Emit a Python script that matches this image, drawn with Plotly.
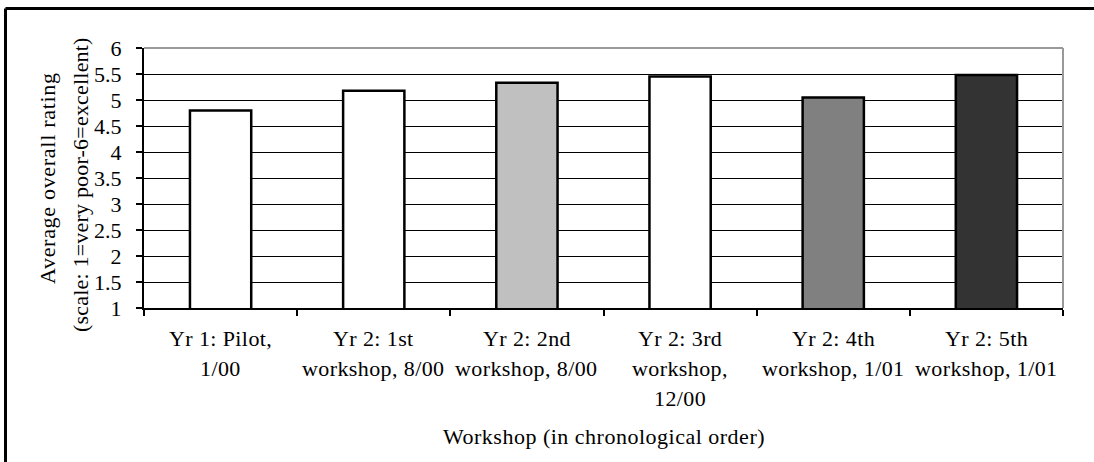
import plotly.graph_objects as go

# ---- data ----
categories = [
    "Yr 1: Pilot,<br>1/00",
    "Yr 2: 1st<br>workshop, 8/00",
    "Yr 2: 2nd<br>workshop, 8/00",
    "Yr 2: 3rd<br>workshop,<br>12/00",
    "Yr 2: 4th<br>workshop, 1/01",
    "Yr 2: 5th<br>workshop, 1/01",
]
ratings = [4.8, 5.18, 5.33, 5.45, 5.05, 5.48]
bar_colors = ["#FFFFFF", "#FFFFFF", "#C0C0C0", "#FFFFFF", "#808080", "#333333"]
y_title_lines = ["Average overall rating", "(scale: 1=very poor-6=excellent)"]
x_title = "Workshop (in chronological order)"

# ---- layout geometry ----
W, H = 1094, 462
L, R, T, B = 144, 31, 48, 154
PW, PH = W - L - R, H - T - B
FONT = "Liberation Serif, Times New Roman, serif"
FS = 22


def px_x(x):
    return (x - L) / PW


def px_y(y):
    return (H - B - y) / PH


def spaced(text, ls):
    return '<span style="letter-spacing:%.2fpx">%s</span>' % (ls, text)


fig = go.Figure()
fig.add_trace(go.Bar(
    x=categories, y=ratings,
    marker=dict(color=bar_colors, line=dict(color="#000000", width=2.5)),
    hoverinfo="skip",
))

annotations = []
# category labels, line by line
line_shifts = [-30, -60.5, -90]
for cat in categories:
    for i, line in enumerate(cat.split("<br>")):
        annotations.append(dict(
            x=cat, xref="x", y=0, yref="paper", yshift=line_shifts[i],
            text=spaced(line, 0.4), showarrow=False,
            xanchor="center", yanchor="middle",
            font=dict(family=FONT, size=FS, color="#000000"),
        ))
# y title (two lines)
for line, xs, ys, ls in zip(y_title_lines, [-97, -64], [0, -7], [0.7, 0.2]):
    annotations.append(dict(
        x=0, xref="paper", xshift=xs, y=0.5, yref="paper", yshift=ys,
        text=spaced(line, ls), showarrow=False, textangle=-90,
        xanchor="center", yanchor="middle",
        font=dict(family=FONT, size=FS, color="#000000"),
    ))
# x title
annotations.append(dict(
    x=0.5, xref="paper", y=0, yref="paper", yshift=-128,
    text=spaced(x_title, 0.5), showarrow=False,
    xanchor="center", yanchor="middle",
    font=dict(family=FONT, size=FS, color="#000000"),
))

shapes = [
    # grey frame top & right of plot area
    dict(type="line", xref="paper", yref="paper", x0=0, x1=1, y0=1, y1=1,
         line=dict(color="#999999", width=2), layer="above"),
    dict(type="line", xref="paper", yref="paper", x0=1, x1=1, y0=0, y1=1,
         line=dict(color="#999999", width=2), layer="above"),
    # outer chart border (top and left visible)
    dict(type="line", xref="paper", yref="paper",
         x0=px_x(5.5), x1=px_x(1100), y0=px_y(8.5), y1=px_y(8.5),
         line=dict(color="#000000", width=3), layer="above"),
    dict(type="line", xref="paper", yref="paper",
         x0=px_x(5.5), x1=px_x(5.5), y0=px_y(8.5), y1=px_y(470),
         line=dict(color="#000000", width=3), layer="above"),
]

fig.update_layout(
    width=W, height=H,
    margin=dict(l=L, r=R, t=T, b=B, pad=0),
    paper_bgcolor="#FFFFFF", plot_bgcolor="#FFFFFF",
    bargap=0.6, showlegend=False,
    font=dict(family=FONT, size=FS, color="#000000"),
    annotations=annotations, shapes=shapes,
    xaxis=dict(
        type="category", showgrid=False, showticklabels=False,
        ticks="outside", tickson="boundaries", ticklen=6, tickwidth=1.5,
        tickcolor="#000000", showline=True, linecolor="#000000", linewidth=2,
        zeroline=False, fixedrange=True,
    ),
    yaxis=dict(
        range=[1, 6], dtick=0.5, tick0=1, showgrid=True, gridcolor="#000000",
        gridwidth=1, ticks="outside", ticklen=6, tickwidth=1.5,
        tickcolor="#000000", showline=True, linecolor="#000000", linewidth=2,
        zeroline=False, ticklabelstandoff=10, fixedrange=True,
        tickfont=dict(family=FONT, size=FS, color="#000000"),
    ),
)

fig.write_html(
    "out.html",
    config={"displayModeBar": False},
    post_script="document.body.style.margin='0';document.body.style.overflow='hidden';",
)
